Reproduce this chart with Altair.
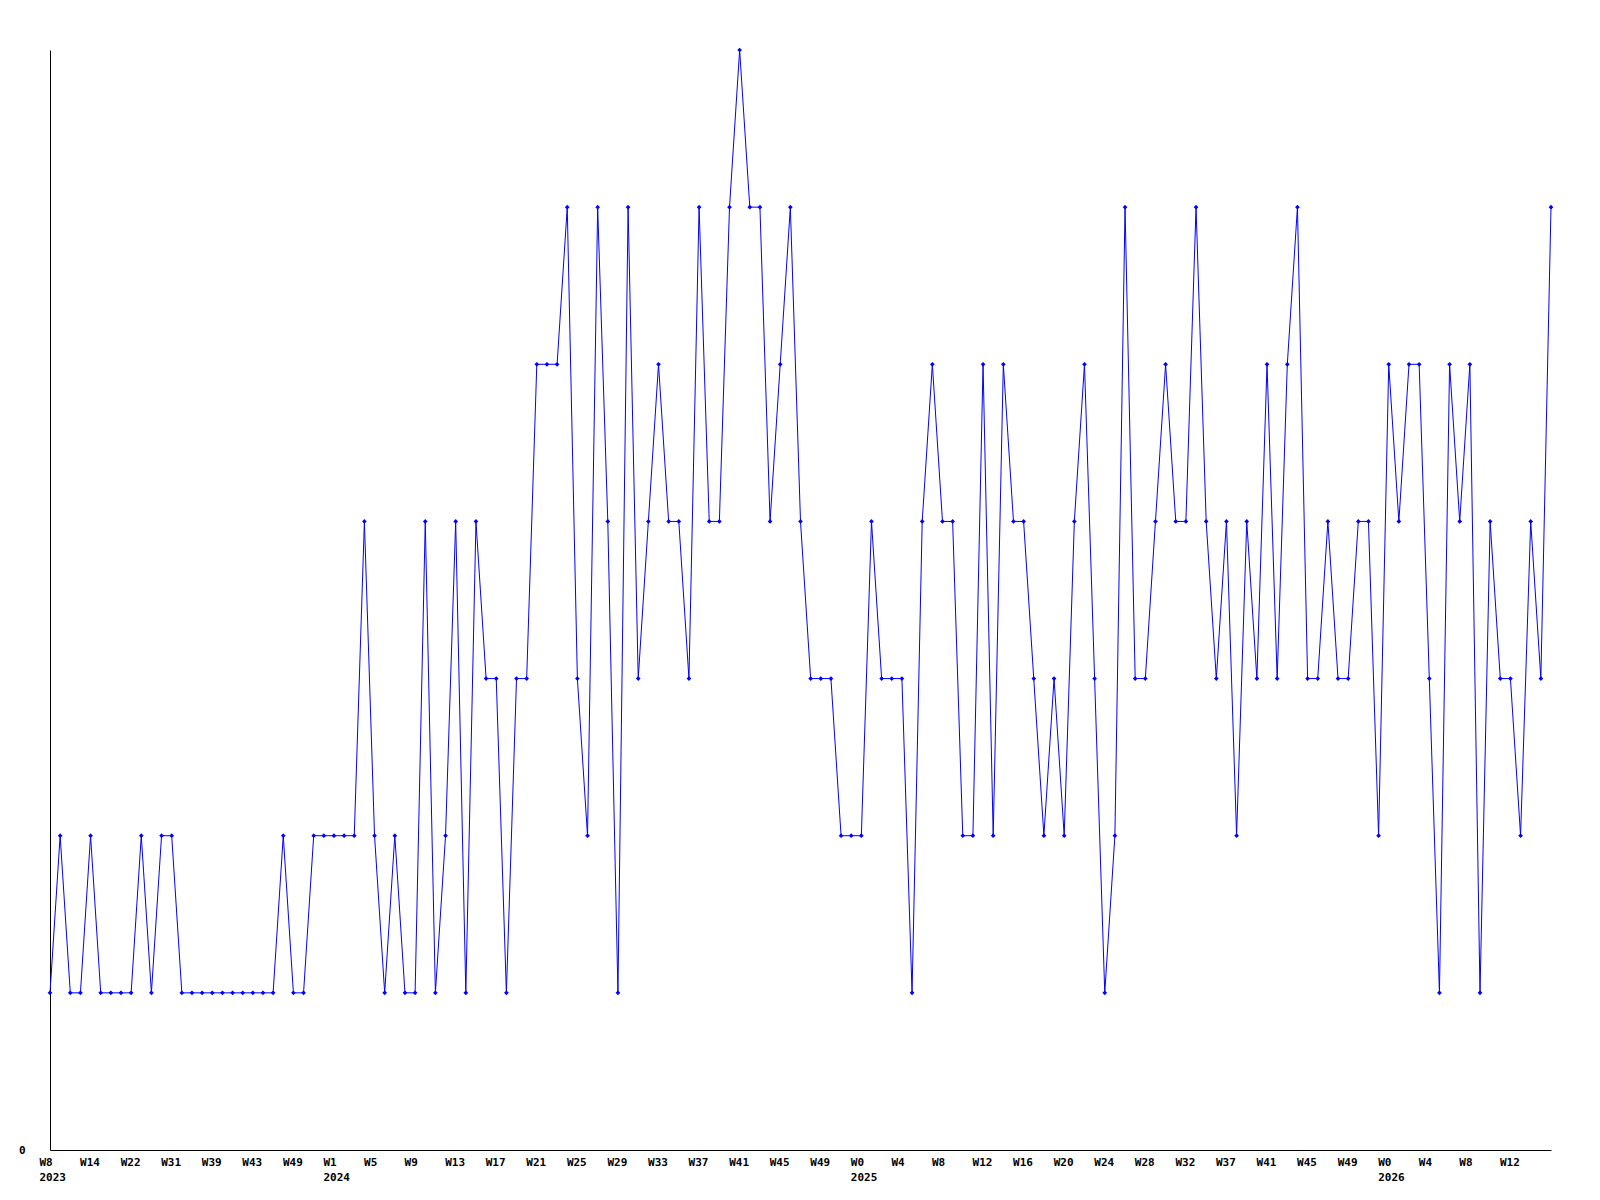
import json
import altair as alt
import pandas as pd

# Weekly values (one point per observation, evenly spaced)
values = [
    1, 2, 1, 1, 2, 1, 1, 1, 1, 2, 1, 2, 2, 1, 1, 1, 1, 1, 1, 1,
    1, 1, 1, 2, 1, 1, 2, 2, 2, 2, 2, 4, 2, 1, 2, 1, 1, 4, 1, 2,
    4, 1, 4, 3, 3, 1, 3, 3, 5, 5, 5, 6, 3, 2, 6, 4, 1, 6, 3, 4,
    5, 4, 4, 3, 6, 4, 4, 6, 7, 6, 6, 4, 5, 6, 4, 3, 3, 3, 2, 2,
    2, 4, 3, 3, 3, 1, 4, 5, 4, 4, 2, 2, 5, 2, 5, 4, 4, 3, 2, 3,
    2, 4, 5, 3, 1, 2, 6, 3, 3, 4, 5, 4, 4, 6, 4, 3, 4, 2, 4, 3,
    5, 3, 5, 6, 3, 3, 4, 3, 3, 4, 4, 2, 5, 4, 5, 5, 3, 1, 5, 4,
    5, 1, 4, 3, 3, 2, 4, 3, 6,
]

# Axis labels, one every 4 points
tick_weeks = [
    "W8", "W14", "W22", "W31", "W39", "W43", "W49",
    "W1", "W5", "W9", "W13", "W17", "W21", "W25", "W29", "W33", "W37",
    "W41", "W45", "W49",
    "W0", "W4", "W8", "W12", "W16", "W20", "W24", "W28", "W32", "W37",
    "W41", "W45", "W49",
    "W0", "W4", "W8", "W12",
]
tick_years = [
    "2023", "", "", "", "", "", "",
    "2024", "", "", "", "", "", "", "", "", "",
    "", "", "",
    "2025", "", "", "", "", "", "", "", "", "",
    "", "", "",
    "2026", "", "", "",
]
tick_step = 4

df = pd.DataFrame({"idx": list(range(len(values))), "value": values})

pairs = [[w, y] for w, y in zip(tick_weeks, tick_years)]
label_expr = f"{json.dumps(pairs)}[round(datum.value / {tick_step})]"
tick_values = [i * tick_step for i in range(len(tick_weeks))]

FONT = "DejaVu Sans Mono"
BLUE = "#0000ff"

x_enc = alt.X(
    "idx:Q",
    scale=alt.Scale(domain=[0, len(values) - 1], nice=False, zero=False),
    axis=alt.Axis(
        values=tick_values,
        labelExpr=label_expr,
        title=None,
        grid=False,
        ticks=False,
        domainColor="black",
        domainWidth=1,
        labelFont=FONT,
        labelFontWeight="bold",
        labelFontSize=11,
        labelColor="black",
        labelAlign="left",
        labelBaseline="top",
        labelOffset=-11,
        labelPadding=6,
        labelLineHeight=15,
        labelOverlap=False,
        labelFlush=False,
    ),
)
y_enc = alt.Y(
    "value:Q",
    scale=alt.Scale(domain=[0, 7], nice=False),
    axis=alt.Axis(
        values=[0],
        format="d",
        title=None,
        grid=False,
        ticks=False,
        domainColor="black",
        domainWidth=1,
        labelFont=FONT,
        labelFontWeight="bold",
        labelFontSize=11,
        labelColor="black",
        labelPadding=25,
    ),
)

base = alt.Chart(df)
line = base.mark_line(color=BLUE, strokeWidth=1).encode(x=x_enc, y=y_enc)
pts = base.mark_point(shape="diamond", filled=True, color=BLUE, size=22, opacity=1).encode(
    x="idx:Q", y="value:Q"
)

chart = (
    alt.layer(line, pts)
    .properties(
        width=1501,
        height=1100,
        background="white",
        autosize=alt.AutoSizeParams(type="none"),
        padding={"left": 42, "top": 42, "right": 30, "bottom": 50},
    )
    .configure_view(strokeWidth=0, stroke="transparent")
)

chart.save("out.html", embed_options={"renderer": "svg", "actions": False})
